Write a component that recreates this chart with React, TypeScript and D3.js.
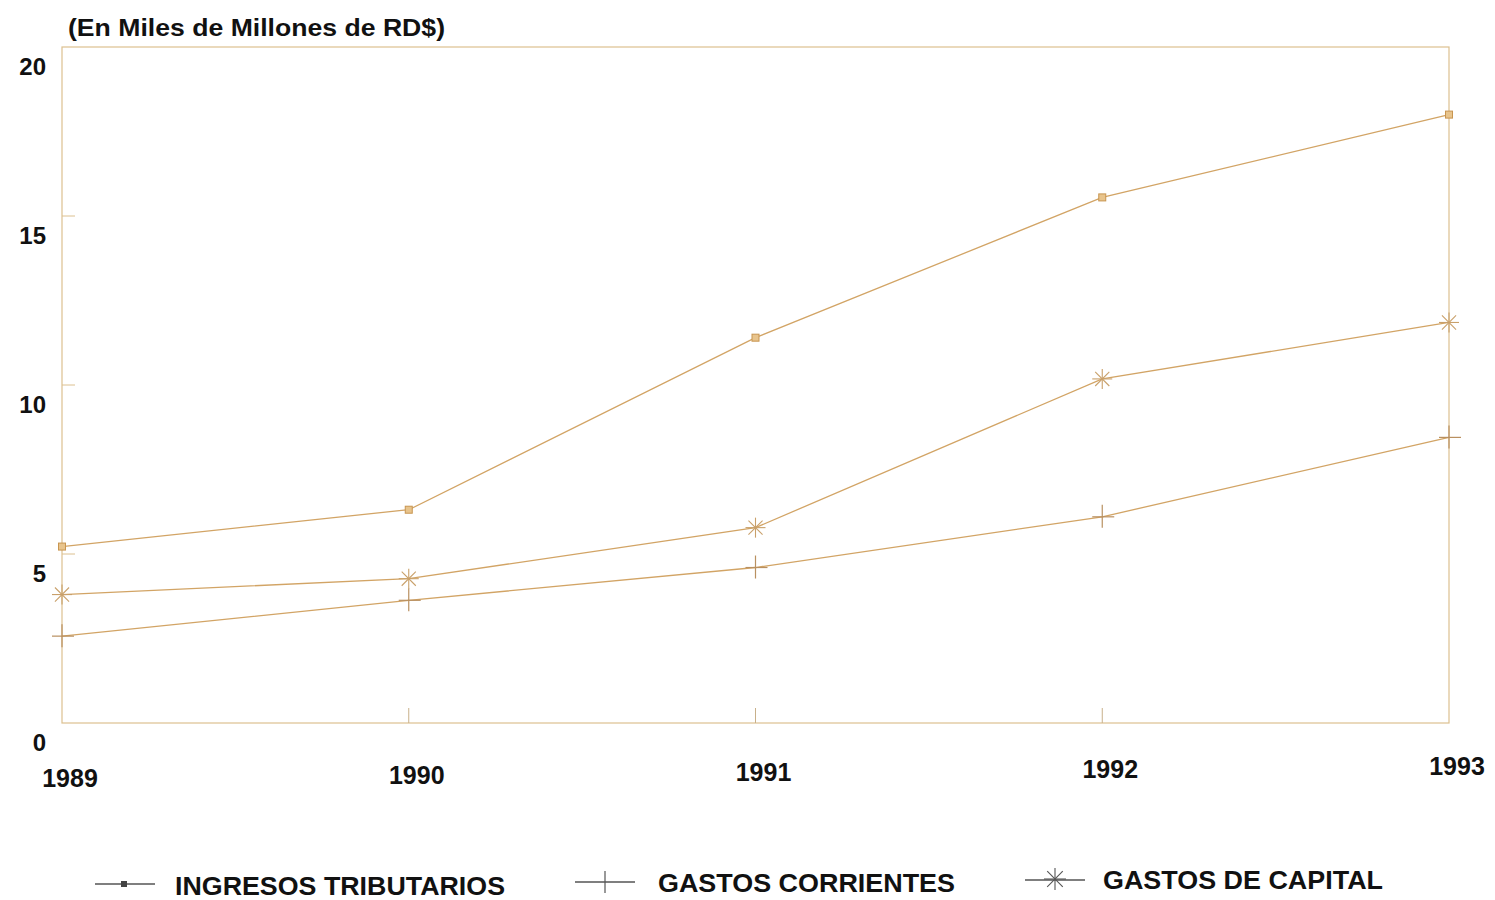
import * as d3 from 'd3';

// Años y series (miles de millones de RD$)
const years = [1989, 1990, 1991, 1992, 1993];
const ingresosTributarios = [5.22, 6.31, 11.4, 15.55, 18.0];
const gastosCorrientes = [2.57, 3.63, 4.6, 6.1, 8.45];
const gastosCapital = [3.8, 4.27, 5.78, 10.18, 11.85];
const yTicks = [0, 5, 10, 15, 20];
const seriesNames = ['INGRESOS TRIBUTARIOS', 'GASTOS CORRIENTES', 'GASTOS DE CAPITAL'];

const W = 1495;
const H = 900;
const LINE = '#d2a465';
const FRAME = '#dcc08f';
const FONT = '"Liberation Sans", Arial, sans-serif';

type Marker = 'square' | 'plus' | 'star';

function MarkerShape({ type, x, y }: { type: Marker; x: number; y: number }) {
  if (type === 'square') {
    return (
      <rect x={x - 3.5} y={y - 3.5} width={7} height={7} fill="#e8c48c" stroke="#c89550" strokeWidth={1} />
    );
  }
  if (type === 'plus') {
    return (
      <g stroke="#b99060" strokeWidth={1.2}>
        <line x1={x} x2={x} y1={y - 12} y2={y + 11} />
        <line x1={x - 10} x2={x + 12} y1={y} y2={y} />
      </g>
    );
  }
  const r = 10;
  return (
    <g stroke="#c9a06a" strokeWidth={1.1}>
      {d3.range(4).map((i) => {
        const a = (i * Math.PI) / 4;
        return (
          <line key={i} x1={x - r * Math.cos(a)} x2={x + r * Math.cos(a)} y1={y - r * Math.sin(a)} y2={y + r * Math.sin(a)} />
        );
      })}
    </g>
  );
}

export default function App() {
  const x = d3.scalePoint<number>().domain(years).range([62, 1449]);
  const y = d3.scaleLinear().domain([0, 20]).range([723, 47]);

  const line = d3
    .line<number>()
    .x((_, i) => x(years[i]) as number)
    .y((d) => y(d));

  const series: { name: string; values: number[]; marker: Marker }[] = [
    { name: seriesNames[0], values: ingresosTributarios, marker: 'square' },
    { name: seriesNames[1], values: gastosCorrientes, marker: 'plus' },
    { name: seriesNames[2], values: gastosCapital, marker: 'star' },
  ];

  const legendX = [95, 575, 1025];
  const legendTextX = [175, 658, 1103];
  const legendTextW = [330, 297, 280];

  return (
    <svg width={W} height={H} style={{ position: 'absolute', left: 0, top: 0, background: '#fff' }} fontFamily={FONT}>
      {/* titulo */}
      <text x={68} y={36} fontSize={24} fontWeight="bold" fill="#111" textLength={377} lengthAdjust="spacingAndGlyphs">
        (En Miles de Millones de RD$)
      </text>

      {/* marco */}
      <rect x={62} y={47} width={1387} height={676} fill="none" stroke={FRAME} strokeWidth={1.2} />

      {/* ticks eje y */}
      {yTicks.slice(1, -1).map((t) => (
        <line key={t} x1={62} x2={75} y1={y(t)} y2={y(t)} stroke={FRAME} strokeWidth={1} />
      ))}
      {yTicks.map((t) => (
        <text key={t} x={46} y={y(t) + 28} fontSize={24} fontWeight="bold" fill="#111" textAnchor="end">
          {t}
        </text>
      ))}

      {/* ticks eje x */}
      {years.slice(1, -1).map((yr) => (
        <line key={yr} x1={x(yr)} x2={x(yr)} y1={708} y2={723} stroke="#c8b08a" strokeWidth={1} />
      ))}
      {years.map((yr, i) => (
        <text key={yr} x={(x(yr) as number) + 8} y={787 - i * 3} fontSize={25} fontWeight="bold" fill="#111" textAnchor="middle">
          {yr}
        </text>
      ))}

      {/* series */}
      {series.map((s) => (
        <g key={s.name}>
          <path d={line(s.values) ?? ''} fill="none" stroke={LINE} strokeWidth={1.3} />
          {s.values.map((v, i) => (
            <MarkerShape key={i} type={s.marker} x={x(years[i]) as number} y={y(v)} />
          ))}
        </g>
      ))}

      {/* leyenda */}
      {series.map((s, i) => (
        <g key={s.name}>
          <line x1={legendX[i]} x2={legendX[i] + 60} y1={884 - i * 2} y2={884 - i * 2} stroke="#555" strokeWidth={1.3} />
          {s.marker === 'square' ? (
            <rect x={legendX[i] + 26} y={881} width={6} height={6} fill="#444" />
          ) : s.marker === 'plus' ? (
            <line x1={legendX[i] + 30} x2={legendX[i] + 30} y1={871} y2={893} stroke="#555" strokeWidth={1.2} />
          ) : (
            <g stroke="#555" strokeWidth={1.1}>
              {d3.range(4).map((k) => {
                const a = (k * Math.PI) / 4 + Math.PI / 2;
                const r = 11;
                const cx = legendX[i] + 30;
                return (
                  <line key={k} x1={cx - r * Math.cos(a)} x2={cx + r * Math.cos(a)} y1={879 - r * Math.sin(a)} y2={879 + r * Math.sin(a)} />
                );
              })}
            </g>
          )}
          <text
            x={legendTextX[i]}
            y={895 - i * 3}
            fontSize={26}
            fontWeight="bold"
            fill="#111"
            textLength={legendTextW[i]}
            lengthAdjust="spacingAndGlyphs"
          >
            {s.name}
          </text>
        </g>
      ))}
    </svg>
  );
}
